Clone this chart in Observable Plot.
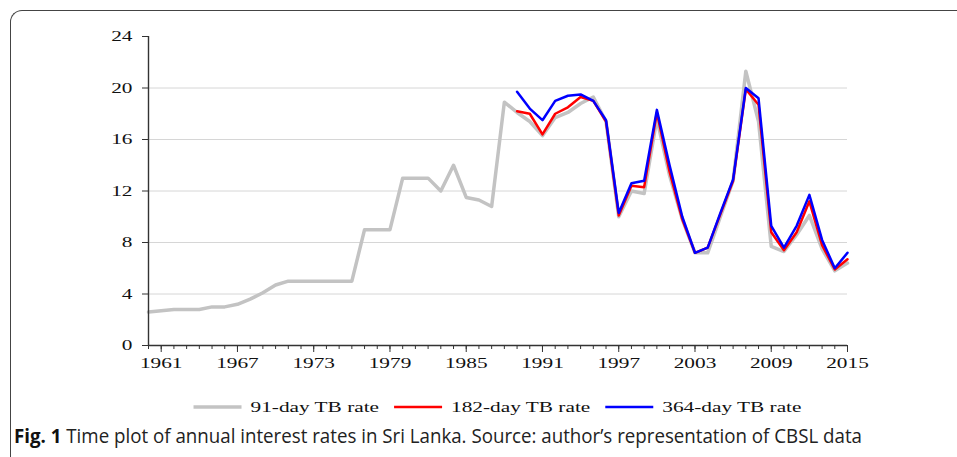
<!DOCTYPE html>
<html><head><meta charset="utf-8">
<script src="https://cdn.jsdelivr.net/npm/d3@7"></script>
<script src="https://cdn.jsdelivr.net/npm/@observablehq/plot@0.6"></script>
<style>
html,body{margin:0;padding:0;background:#fff;width:957px;height:457px;overflow:hidden;}
#frame{position:absolute;left:10px;top:10px;width:1000px;height:500px;border-top:1.5px solid #444;border-left:1.5px solid #444;border-top-left-radius:12px;}
#chart{position:absolute;left:0;top:0;}
#legend{position:absolute;left:0;top:392px;}
#caption{position:absolute;left:14px;top:426px;white-space:nowrap;font-family:"Open Sans",sans-serif;font-size:20px;line-height:20px;color:#222;transform-origin:left top;display:inline-block;}
#caption b{color:#111;}
</style></head>
<body>
<div id="frame"></div>
<div id="chart"></div>
<svg id="legend" width="957" height="30"></svg>
<div id="caption"><b>Fig. 1</b> Time plot of annual interest rates in Sri Lanka. Source: author’s representation of CBSL data</div>
<script>
// ---- data ----
const years91 = [1960,1961,1962,1963,1964,1965,1966,1967,1968,1969,1970,1971,1972,1973,1974,1975,1976,1977,1978,1979,1980,1981,1982,1983,1984,1985,1986,1987,1988,1989,1990,1991,1992,1993,1994,1995,1996,1997,1998,1999,2000,2001,2002,2003,2004,2005,2006,2007,2008,2009,2010,2011,2012,2013,2014,2015];
const tb91 = [2.6,2.7,2.8,2.8,2.8,3.0,3.0,3.2,3.6,4.1,4.7,5.0,5.0,5.0,5.0,5.0,5.0,9.0,9.0,9.0,13.0,13.0,13.0,12.0,14.0,11.5,11.3,10.8,18.9,18.1,17.4,16.3,17.7,18.1,18.8,19.3,17.4,10.0,12.0,11.8,17.6,13.2,9.8,7.2,7.2,10.0,12.8,21.3,17.4,7.7,7.3,8.6,10.1,7.5,5.8,6.4];
const yearsLong = [1989,1990,1991,1992,1993,1994,1995,1996,1997,1998,1999,2000,2001,2002,2003,2004,2005,2006,2007,2008,2009,2010,2011,2012,2013,2014,2015];
const tb182 = [18.2,18.0,16.4,18.0,18.5,19.3,19.0,17.4,10.1,12.4,12.3,18.1,13.5,9.8,7.2,7.6,10.2,12.8,19.9,18.7,8.8,7.4,8.8,11.2,7.8,5.9,6.7];
const tb364 = [19.7,18.4,17.5,19.0,19.4,19.5,19.0,17.5,10.3,12.6,12.8,18.3,14.0,10.0,7.2,7.6,10.3,12.9,20.0,19.2,9.3,7.6,9.3,11.7,8.2,6.0,7.2];
const yTicks = [0,4,8,12,16,20,24];
const xMajor = [1961,1967,1973,1979,1985,1991,1997,2003,2009,2015];
const xMinor = years91;
const seriesNames = ["91-day TB rate","182-day TB rate","364-day TB rate"];
const seriesColors = ["#c3c3c3","#ff0000","#0000ff"];

const d91 = years91.map((y,i)=>({year:y, rate:tb91[i]}));
const d182 = yearsLong.map((y,i)=>({year:y, rate:tb182[i]}));
const d364 = yearsLong.map((y,i)=>({year:y, rate:tb364[i]}));

const S = 1.42; // horizontal stretch of the serif text, as in the reference
const serif = '"Liberation Serif", "Times New Roman", serif';

const plot = Plot.plot({
  width: 957, height: 380,
  marginLeft: 148, marginRight: 110, marginTop: 36, marginBottom: 35,
  style: {fontFamily: serif, fontSize: "15px", color: "#111", background: "transparent", overflow: "visible"},
  x: {domain: [1960, 2015]},
  y: {domain: [0, 24]},
  marks: [
    Plot.gridY([4,8,12,16,20], {stroke: "#d6d6d6", strokeOpacity: 1, strokeWidth: 1}),
    Plot.lineY(d91, {x: "year", y: "rate", stroke: seriesColors[0], strokeWidth: 3.5}),
    Plot.lineY(d182, {x: "year", y: "rate", stroke: seriesColors[1], strokeWidth: 2.5}),
    Plot.lineY(d364, {x: "year", y: "rate", stroke: seriesColors[2], strokeWidth: 2.5}),
    Plot.ruleY([0], {stroke: "#333", strokeWidth: 1.6}),
    Plot.ruleX([1960], {stroke: "#333", strokeWidth: 1.4}),
    Plot.axisY(yTicks, {anchor: "left", tickSize: 6, tickPadding: 10, stroke: "#333", label: null, tickFormat: d => String(d)}),
    Plot.axisX(xMinor, {anchor: "bottom", tickSize: 4, stroke: "#333", label: null, tickFormat: () => ""}),
    Plot.axisX(xMajor, {anchor: "bottom", tickSize: 7, tickPadding: 5, stroke: "#333", label: null, tickFormat: d => String(d)})
  ]
});
document.getElementById("chart").append(plot);

function stretch(root){
  root.querySelectorAll("text").forEach(t => {
    const L = t.getComputedTextLength();
    if (L > 0) {
      t.setAttribute("textLength", (L*S).toFixed(2));
      t.setAttribute("lengthAdjust", "spacingAndGlyphs");
      t.dataset.w = L*S;
    }
  });
}
stretch(plot);

// ---- legend ----
const leg = d3.select("#legend");
const items = seriesNames.map((name,i)=>{
  const g = leg.append("g");
  g.append("line").attr("x1",0).attr("x2",48).attr("y1",15).attr("y2",15)
    .attr("stroke", seriesColors[i]).attr("stroke-width", i===0?3.5:2.5);
  g.append("text").attr("x",57).attr("y",20).text(name)
    .attr("font-family", serif).attr("font-size", 15).attr("fill", "#111");
  return g;
});
stretch(document.getElementById("legend"));
const widths = items.map(g => 57 + (+g.select("text").node().dataset.w));
const gap = 15;
const total = d3.sum(widths) + gap*(widths.length-1);
let cx = 497.5 - total/2;
items.forEach((g,i)=>{ g.attr("transform", `translate(${cx},0)`); cx += widths[i] + gap; });

// ---- caption: condensed to the reference width ----
const cap = document.getElementById("caption");
const w = cap.getBoundingClientRect().width;
cap.style.transform = `scaleX(${(848/w).toFixed(4)})`;
</script>
</body></html>
